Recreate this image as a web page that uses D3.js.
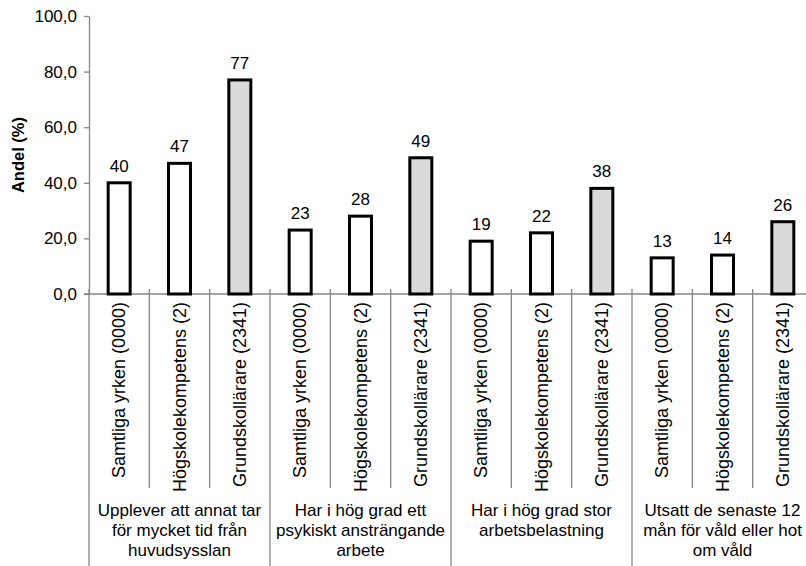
<!DOCTYPE html>
<html>
<head>
<meta charset="utf-8">
<script src="https://cdn.jsdelivr.net/npm/d3@7"></script>
<style>
  body { margin: 0; background: #fff; }
  text { font-family: "Liberation Sans", Arial, Helvetica, sans-serif; fill: #000; }
</style>
</head>
<body>
<svg id="chart" width="806" height="566"></svg>
<script>
// data
var groups = [
  ["Upplever att annat tar", "för mycket tid från", "huvudsysslan"],
  ["Har i hög grad ett", "psykiskt ansträngande", "arbete"],
  ["Har i hög grad stor", "arbetsbelastning"],
  ["Utsatt de senaste 12", "mån för våld eller hot", "om våld"]
];
var categories = ["Samtliga yrken (0000)", "Högskolekompetens (2)", "Grundskollärare (2341)"];
var samtliga = [40, 23, 19, 13];
var hogskole = [47, 28, 22, 14];
var grundskol = [77, 49, 38, 26];
var yTicks = [0, 20, 40, 60, 80, 100];

var series = [samtliga, hogskole, grundskol];
var fills = ["#ffffff", "#ffffff", "#d9d9d9"];

var svg = d3.select("#chart"),
  plotLeft = 89, plotRight = 813, plotTop = 16, axisY = 294;

// flatten into one row per slot
var data = [];
groups.forEach(function(g, gi) {
  categories.forEach(function(c, ci) {
    data.push({ key: gi + "-" + ci, group: gi, cat: c, ci: ci, value: series[ci][gi] });
  });
});

var x = d3.scaleBand()
  .domain(data.map(d => d.key))
  .range([plotLeft, plotRight]);

var y = d3.scaleLinear()
  .domain([0, 100])
  .range([axisY, plotTop]);

var grey = "#868686";
var fmt = d => d3.format(".1f")(d).replace(".", ",");

// y axis
var yAxis = svg.append("g")
  .attr("transform", `translate(${plotLeft},0)`)
  .call(d3.axisLeft(y).tickValues(yTicks).tickFormat(fmt).tickSize(5).tickSizeOuter(0).tickPadding(7));
yAxis.select(".domain").attr("stroke", grey).attr("stroke-width", 1.3);
yAxis.selectAll(".tick line").attr("stroke", grey).attr("stroke-width", 1.3);
yAxis.selectAll(".tick text").attr("font-size", 17).attr("font-family", null);

svg.append("text")
  .attr("transform", `translate(24,${(y(0) + y(100)) / 2}) rotate(-90)`)
  .attr("text-anchor", "middle")
  .attr("font-size", 16.5)
  .attr("font-weight", "bold")
  .text("Andel (%)");

// x axis line
svg.append("line")
  .attr("x1", plotLeft - 5).attr("x2", plotRight)
  .attr("y1", axisY).attr("y2", axisY)
  .attr("stroke", grey).attr("stroke-width", 1.3);

// separators: short between categories, long between groups
var step = x.step();
d3.range(0, data.length + 1).forEach(function(i) {
  var isGroup = i % categories.length === 0;
  var xx = plotLeft + i * step;
  svg.append("line")
    .attr("x1", xx).attr("x2", xx)
    .attr("y1", axisY - 5)
    .attr("y2", isGroup ? 566 : 488)
    .attr("stroke", grey).attr("stroke-width", 1.3);
});

// bars
var bw = 22;
svg.selectAll("rect.bar")
  .data(data)
  .enter().append("rect")
    .attr("class", "bar")
    .attr("x", d => x(d.key) + x.bandwidth() / 2 - bw / 2)
    .attr("y", d => y(d.value))
    .attr("width", bw)
    .attr("height", d => y(0) - y(d.value))
    .attr("fill", d => fills[d.ci])
    .attr("stroke", "#000")
    .attr("stroke-width", 3);

// value labels
svg.selectAll("text.val")
  .data(data)
  .enter().append("text")
    .attr("class", "val")
    .attr("x", d => x(d.key) + x.bandwidth() / 2)
    .attr("y", d => y(d.value) - 11)
    .attr("text-anchor", "middle")
    .attr("font-size", 17)
    .text(d => d.value);

// category labels (rotated)
svg.selectAll("text.cat")
  .data(data)
  .enter().append("text")
    .attr("class", "cat")
    .attr("transform", d => `translate(${x(d.key) + x.bandwidth() / 2},302) rotate(-90)`)
    .attr("text-anchor", "end")
    .attr("dy", "0.35em")
    .attr("font-size", 18)
    .text(d => d.cat);

// group labels
groups.forEach(function(lines, gi) {
  var cx = plotLeft + (gi + 0.5) * categories.length * step;
  var t = svg.append("text")
    .attr("text-anchor", "middle")
    .attr("font-size", 17);
  lines.forEach(function(l, li) {
    t.append("tspan").attr("x", cx).attr("y", 516 + li * 20).text(l);
  });
});
</script>
</body>
</html>
